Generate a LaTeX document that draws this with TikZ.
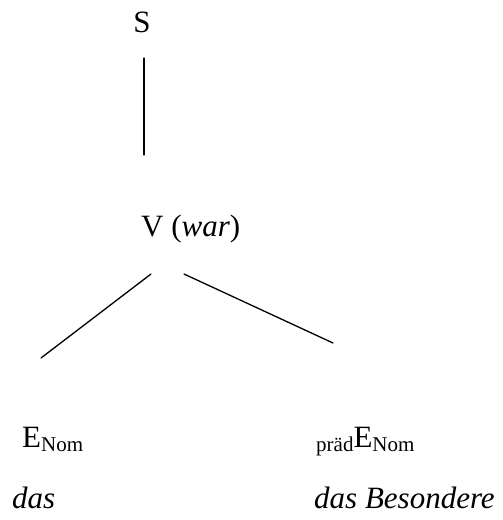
\documentclass[tikz,border=0pt]{standalone}
\usepackage{fontspec}
\setmainfont{Liberation Serif}
\newcommand{\subtxt}[1]{\raisebox{-4pt}{\fontsize{21}{21}\selectfont #1}}
\begin{document}
\begin{tikzpicture}[x=1pt,y=-1pt,
  lbl/.style={inner sep=0pt,font=\fontsize{31}{36}\selectfont},
  edge/.style={line width=1.3pt,line cap=round}]
\useasboundingbox (0,0) rectangle (503,520);
\node[lbl,anchor=base] (S) at (142,32) {S};
\node[lbl,anchor=base west] (V) at (141,236) {V (\textit{war})};
\node[lbl,anchor=base west] (E1) at (22,447) {E\subtxt{Nom}};
\node[lbl,anchor=base west] (E2) at (316,447) {\subtxt{präd}E\subtxt{Nom}};
\node[lbl,anchor=base west] (w1) at (12,508) {\textit{das}};
\node[lbl,anchor=base west] (w2) at (314,508) {\textit{das Besondere}};
\coordinate (s1) at (144,58);
\coordinate (s2) at (144,155);
\coordinate (l1) at (151,274);
\coordinate (l2) at (41,358);
\coordinate (r1) at (184,274);
\coordinate (r2) at (333,343);
\draw[edge] (s1) -- (s2);
\draw[edge] (l1) -- (l2);
\draw[edge] (r1) -- (r2);
\end{tikzpicture}
\end{document}
